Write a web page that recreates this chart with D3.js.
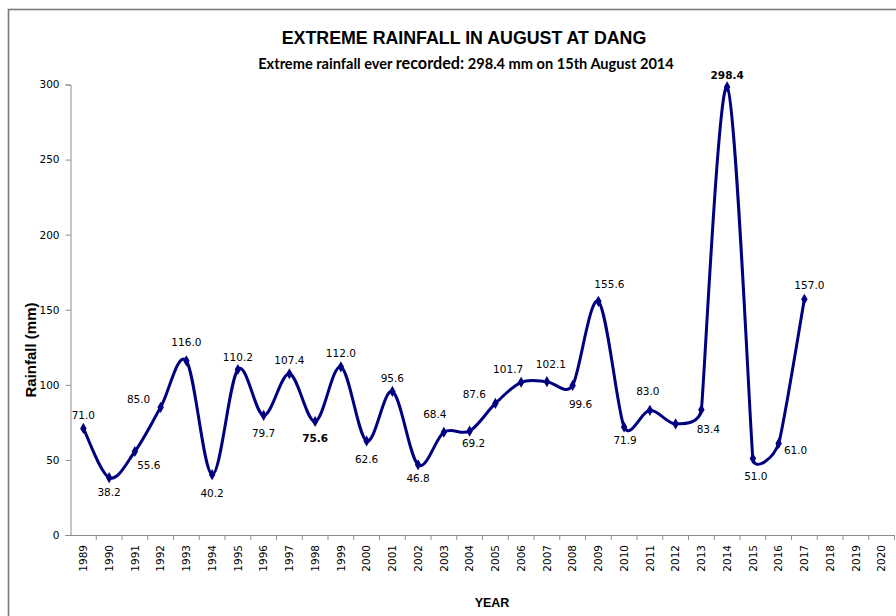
<!DOCTYPE html>
<html>
<head>
<meta charset="utf-8">
<script src="https://cdn.jsdelivr.net/npm/d3@7"></script>
<style>
  html, body { margin: 0; padding: 0; background: #fff; }
  svg { display: block; }
</style>
</head>
<body>
<svg id="chart" width="896" height="616"></svg>
<script>
// ---- data ----
const years = ["1989","1990","1991","1992","1993","1994","1995","1996","1997","1998","1999","2000","2001","2002","2003","2004","2005","2006","2007","2008","2009","2010","2011","2012","2013","2014","2015","2016","2017","2018","2019","2020"];
const rainYears = ["1989","1990","1991","1992","1993","1994","1995","1996","1997","1998","1999","2000","2001","2002","2003","2004","2005","2006","2007","2008","2009","2010","2011","2012","2013","2014","2015","2016","2017"];
const rainfall = [71.0,38.2,55.6,85.0,116.0,40.2,110.2,79.7,107.4,75.6,112.0,62.6,95.6,46.8,68.4,69.2,87.6,101.7,102.1,99.6,155.6,71.9,83.0,74.0,83.4,298.4,51.0,61.0,157.0];
const rainLabels = ["71.0","38.2","55.6","85.0","116.0","40.2","110.2","79.7","107.4","75.6","112.0","62.6","95.6","46.8","68.4","69.2","87.6","101.7","102.1","99.6","155.6","71.9","83.0",null,"83.4","298.4","51.0","61.0","157.0"];
const boldLabels = ["1998","2014"];
const yTicks = [0,50,100,150,200,250,300];

// ---- label placement (style: offset of label centre from its point) ----
const labelNudge = [[0,-13],[0,15],[14,14],[-22,-8],[0,-18],[0,19],[0,-12],[0,18],[0,-13],[0,17],[0,-13],[0,18],[0,-13],[0,14],[-9,-18],[4,12],[-21,-9],[-13,-13],[4,-17],[8,19],[11,-17],[1,13],[-2,-19],[0,0],[7,20],[0,-12],[3,18],[17,7],[5,-14]];

const svg = d3.select("#chart");
const mLeft = 70.5, mRight = 894.5, mTop = 84.5, mBottom = 535;

// outer chart border
svg.append("rect").attr("x", 8.5).attr("y", 9.5).attr("width", 900).attr("height", 620)
  .attr("fill", "none").attr("stroke", "#7a7a7a").attr("stroke-width", 1.6);

const x = d3.scaleBand().domain(years).range([mLeft, mRight]).padding(0);
const y = d3.scaleLinear().domain([0, 300]).range([mBottom, mTop]);

// Titles
svg.append("text").attr("x", 464).attr("y", 44).attr("text-anchor", "middle")
  .attr("font-family", "'Liberation Sans', Arial, sans-serif").attr("font-weight", "bold")
  .attr("font-size", 17.8).attr("fill", "#000").text("EXTREME RAINFALL IN AUGUST AT DANG");

const sub = svg.append("text").attr("x", 466).attr("y", 69).attr("text-anchor", "middle")
  .attr("font-family", "Lato, 'Open Sans', sans-serif").attr("font-weight", "bold")
  .attr("font-size", 14.6).attr("fill", "#000");
sub.append("tspan").text("Extreme rainfall ever ");
sub.append("tspan").attr("font-size", 16.2).text("recorded:");
sub.append("tspan").text(" 298.4 mm on 15th August 2014");

// Y axis
const yAxis = svg.append("g").attr("transform", `translate(${mLeft},0)`)
  .call(d3.axisLeft(y).tickValues(yTicks).tickSize(5).tickPadding(6).tickFormat(d3.format("d")));
yAxis.select(".domain").attr("stroke", "#8c8c8c");
yAxis.selectAll(".tick line").attr("stroke", "#8c8c8c");
yAxis.selectAll("text").attr("font-family", "'DejaVu Sans', Verdana, sans-serif")
  .attr("font-size", 10.5).attr("fill", "#000");

// X axis
const xAxis = svg.append("g").attr("transform", `translate(0,${mBottom})`)
  .call(d3.axisBottom(x).tickSize(0).tickPadding(0));
xAxis.select(".domain").attr("stroke", "#8c8c8c");
xAxis.selectAll(".tick text")
  .attr("font-family", "'DejaVu Sans', Verdana, sans-serif").attr("font-size", 10.5).attr("fill", "#000")
  .attr("transform", "translate(0,10) rotate(-90)")
  .attr("text-anchor", "end").attr("dy", "0.35em").attr("y", 0).attr("x", 0);
// ticks at category boundaries
const edges = years.slice(1).map(d => x(d)).concat([x(years[years.length - 1]) + x.bandwidth()]);
xAxis.selectAll("line.edge").data(edges).enter().append("line").attr("class", "edge")
  .attr("x1", d => d).attr("x2", d => d).attr("y1", 0).attr("y2", 5).attr("stroke", "#8c8c8c");

// axis titles
svg.append("text").attr("transform", "translate(36,350) rotate(-90)").attr("text-anchor", "middle")
  .attr("font-family", "'Liberation Sans', Arial, sans-serif").attr("font-weight", "bold")
  .attr("font-size", 15).attr("fill", "#000").text("Rainfall (mm)");
svg.append("text").attr("x", 492).attr("y", 607).attr("text-anchor", "middle")
  .attr("font-family", "'Liberation Sans', Arial, sans-serif").attr("font-weight", "bold")
  .attr("font-size", 12.5).attr("fill", "#000").text("YEAR");

// line (Excel-style smoothed Bezier, arms limited to half the adjacent segment)
const pts = rainYears.map((yr, i) => ({ yr, v: rainfall[i], label: rainLabels[i], nudge: labelNudge[i] }));
const cx = d => x(d.yr) + x.bandwidth() / 2;
const P = pts.map(d => [cx(d), y(d.v)]);
const dist = (a, b) => Math.hypot(b[0] - a[0], b[1] - a[1]);
const tang = P.map((p, i) => {
  const p0 = P[Math.max(0, i - 1)], p2 = P[Math.min(P.length - 1, i + 1)];
  const d02 = dist(p0, p2);
  if (d02 === 0) return [0, 0];
  let f = 1 / 6;
  const d01 = dist(p0, p), d12 = dist(p, p2);
  if (i > 0) f = Math.min(f, d01 / (2 * d02));
  if (i < P.length - 1) f = Math.min(f, d12 / (2 * d02));
  return [(p2[0] - p0[0]) * f, (p2[1] - p0[1]) * f];
});
const path = d3.path();
path.moveTo(P[0][0], P[0][1]);
for (let i = 0; i < P.length - 1; i++) {
  const a = P[i], b = P[i + 1];
  path.bezierCurveTo(a[0] + tang[i][0], a[1] + tang[i][1], b[0] - tang[i + 1][0], b[1] - tang[i + 1][1], b[0], b[1]);
}
svg.append("path").attr("d", path.toString()).attr("fill", "none")
  .attr("stroke", "#000080").attr("stroke-width", 3).attr("stroke-linejoin", "round");

// markers
svg.selectAll("path.mk").data(pts).enter().append("path").attr("class", "mk")
  .attr("d", d3.symbol().type(d3.symbolDiamond).size(36))
  .attr("transform", d => `translate(${cx(d)},${y(d.v)})`).attr("fill", "#000080");

// labels
svg.selectAll("text.lbl").data(pts.filter(d => d.label)).enter().append("text").attr("class", "lbl")
  .attr("x", d => cx(d) + d.nudge[0]).attr("y", d => y(d.v) + d.nudge[1])
  .attr("dy", "0.35em").attr("text-anchor", "middle")
  .attr("font-family", "'DejaVu Sans', Verdana, sans-serif").attr("font-size", 10.5)
  .attr("font-weight", d => boldLabels.includes(d.yr) ? "bold" : "normal")
  .attr("fill", "#000").text(d => d.label);
</script>
</body>
</html>
